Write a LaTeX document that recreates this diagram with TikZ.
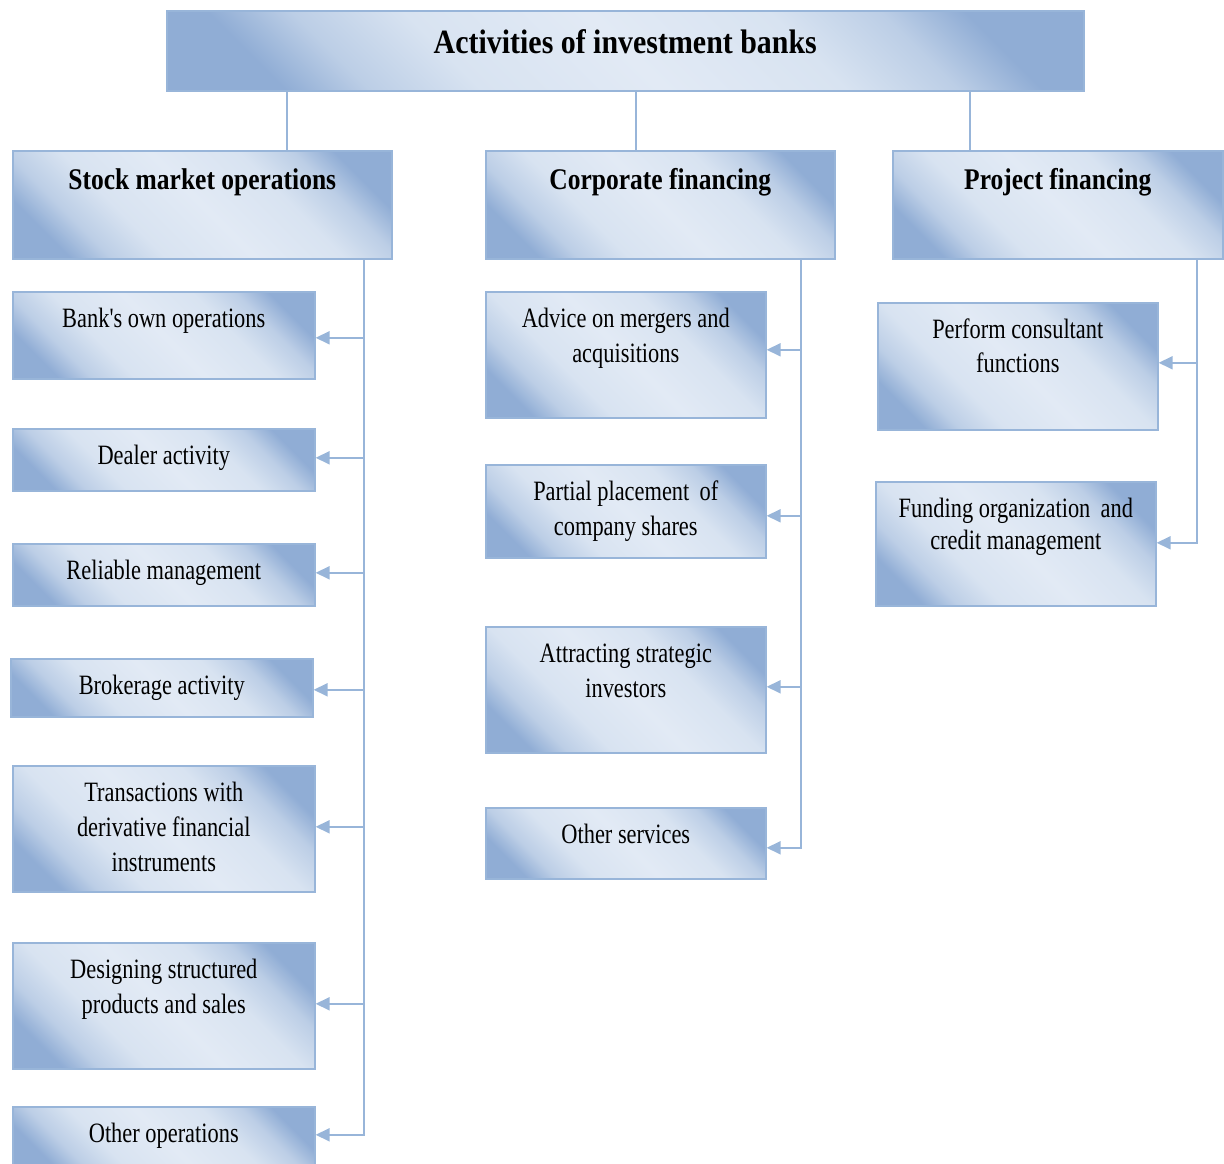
\documentclass[tikz,border=0pt]{standalone}
\usepackage{fontspec}
\setmainfont{Liberation Serif}
\newfontfamily\bodyfont{Liberation Serif}[FakeStretch=0.8]
\newfontfamily\headfont{Liberation Serif}[FakeStretch=0.85]
\newfontfamily\titlefont{Liberation Serif}[FakeStretch=0.88]
\usetikzlibrary{arrows.meta}

\definecolor{boxline}{RGB}{152,181,217}
\definecolor{shadedark}{RGB}{144,173,213}
\definecolor{shademid}{RGB}{188,206,230}
\definecolor{shadelight}{RGB}{216,227,241}
\definecolor{shadepale}{RGB}{226,234,245}

% diagonal fill: darker towards the lower left and upper right corners
\pgfdeclareverticalshading{panelshade}{100bp}{%
  color(0bp)=(shadedark); color(23bp)=(shadedark); color(29bp)=(shademid);
  color(37bp)=(shadelight); color(50bp)=(shadepale); color(63bp)=(shadelight);
  color(71bp)=(shademid); color(77bp)=(shadedark); color(100bp)=(shadedark)}

\tikzset{
  box/.style={draw=boxline, line width=1.6pt,
    shading=panelshade, shading angle=-45, inner sep=0pt, anchor=north west},
  bodytext/.style={font=\bodyfont\fontsize{28}{35}\selectfont, align=center,
    anchor=north, inner sep=0pt},
  headtext/.style={font=\headfont\bfseries\fontsize{30}{36}\selectfont,
    align=center, anchor=north, inner sep=0pt},
  titletext/.style={font=\titlefont\bfseries\fontsize{34}{40}\selectfont,
    align=center, anchor=north, inner sep=0pt},
  link/.style={draw=boxline, line width=1.8pt},
  feed/.style={link, -{Triangle[length=14pt,width=13pt]}},
}

% #1 name, #2 left, #3 top, #4 right, #5 bottom
\newcommand\panel[5]{%
  \node[box, minimum width={#4-#2}, minimum height={#5-#3}] (#1) at (#2,#3) {};}

\begin{document}
\begin{tikzpicture}[x=1pt, y=-1pt]
  \useasboundingbox (0,0) rectangle (1224,1164);
  \clip (0,0) rectangle (1224,1164);

  % top level
  \panel{title}{166}{10}{1083}{90}
  \node[titletext] (title-t) at ([yshift=-18.5pt]title.north)
    {\rule{0pt}{24.5pt}Activities of investment banks};

  % branch headers
  \panel{sm}{12}{150}{391}{258}
  \panel{cf}{485}{150}{834}{258}
  \panel{pf}{892}{150}{1222}{258}
  \node[headtext] (sm-t) at ([yshift=-18pt]sm.north) {\rule{0pt}{21.6pt}Stock market operations};
  \node[headtext] (cf-t) at ([yshift=-18pt]cf.north) {\rule{0pt}{21.6pt}Corporate financing};
  \node[headtext] (pf-t) at ([yshift=-18pt]pf.north) {\rule{0pt}{21.6pt}Project financing};

  % stock market operations
  \panel{bo}{12}{291}{314}{378}
  \panel{da}{12}{428}{314}{490}
  \panel{rm}{12}{543}{314}{605}
  \panel{ba}{10}{658}{312}{716}
  \panel{td}{12}{765}{314}{891}
  \panel{ds}{12}{942}{314}{1068}
  \panel{oo}{12}{1106}{314}{1168}

  % corporate financing
  \panel{am}{485}{291}{765}{417}
  \panel{pp}{485}{464}{765}{557}
  \panel{as}{485}{626}{765}{752}
  \panel{os}{485}{807}{765}{878}

  % project financing
  \panel{pc}{877}{302}{1157}{429}
  \panel{fo}{875}{481}{1155}{605}

  \node[bodytext] (bo-t) at ([yshift=-16pt]bo.north) {\rule{0pt}{20pt}Bank's own operations};
  \node[bodytext] (da-t) at ([yshift=-16pt]da.north) {\rule{0pt}{20pt}Dealer activity};
  \node[bodytext] (rm-t) at ([yshift=-16pt]rm.north) {\rule{0pt}{20pt}Reliable management};
  \node[bodytext] (ba-t) at ([yshift=-16pt]ba.north) {\rule{0pt}{20pt}Brokerage activity};
  \node[bodytext] (td-t) at ([yshift=-16pt]td.north) {\rule{0pt}{20pt}Transactions with\\derivative financial\\instruments};
  \node[bodytext] (ds-t) at ([yshift=-16pt]ds.north) {\rule{0pt}{20pt}Designing structured\\products and sales};
  \node[bodytext] (oo-t) at ([yshift=-16pt]oo.north) {\rule{0pt}{20pt}Other operations};

  \node[bodytext] (am-t) at ([yshift=-16pt]am.north) {\rule{0pt}{20pt}Advice on mergers and\\acquisitions};
  \node[bodytext] (pp-t) at ([yshift=-16pt]pp.north) {\rule{0pt}{20pt}Partial placement\, of\\company shares};
  \node[bodytext] (as-t) at ([yshift=-16pt]as.north) {\rule{0pt}{20pt}Attracting strategic\\investors};
  \node[bodytext] (os-t) at ([yshift=-16pt]os.north) {\rule{0pt}{20pt}Other services};

  \node[bodytext, font=\bodyfont\fontsize{28}{34}\selectfont] (pc-t) at ([yshift=-16pt]pc.north) {\rule{0pt}{20pt}Perform consultant\\functions};
  \node[bodytext, font=\bodyfont\fontsize{28}{32}\selectfont] (fo-t) at ([yshift=-16pt]fo.north) {\rule{0pt}{20pt}Funding organization\, and\\credit management};

  % drops from the top box
  \coordinate (d1) at (287,0);
  \coordinate (d2) at (636,0);
  \coordinate (d3) at (970,0);
  \draw[link] (title.south -| d1) -- (sm.north -| d1);
  \draw[link] (title.south -| d2) -- (cf.north -| d2);
  \draw[link] (title.south -| d3) -- (pf.north -| d3);

  % trunks with feeds into each item (second value: small vertical offset)
  \coordinate (smtrunk) at (364,0);
  \coordinate (cftrunk) at (801,0);
  \coordinate (pftrunk) at (1197,0);

  \draw[feed] (sm.south -| smtrunk) |- ([yshift=3pt]oo.east);
  \foreach \n/\dy in {bo/-2.5, da/2, rm/2, ba/-2, td/2, ds/2}
    \draw[feed] ([yshift=\dy pt]\n.east -| smtrunk) -- ([yshift=\dy pt]\n.east);

  \draw[feed] (cf.south -| cftrunk) |- ([yshift=-4.5pt]os.east);
  \foreach \n/\dy in {am/5, pp/-4.5, as/3}
    \draw[feed] ([yshift=\dy pt]\n.east -| cftrunk) -- ([yshift=\dy pt]\n.east);

  \draw[feed] (pf.south -| pftrunk) |- ([yshift=1pt]fo.east);
  \draw[feed] ([yshift=3.5pt]pc.east -| pftrunk) -- ([yshift=3.5pt]pc.east);
\end{tikzpicture}
\end{document}
